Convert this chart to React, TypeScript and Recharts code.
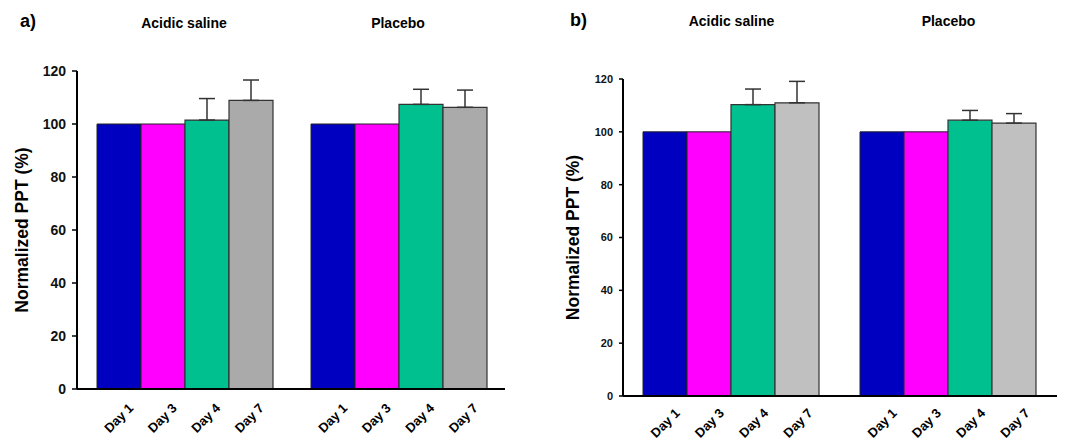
import { BarChart, Bar, XAxis, YAxis, ErrorBar } from "recharts";

const groups = ["Acidic saline", "Placebo"];
const days = ["Day 1", "Day 3", "Day 4", "Day 7"];
const yTicks = [0, 20, 40, 60, 80, 100, 120];

// panel a
const aDay1 = [100, 100];
const aDay3 = [100, 100];
const aDay4 = [101.5, 107.4];
const aDay7 = [108.9, 106.3];
const aErr4 = [8.1, 5.7];
const aErr7 = [7.7, 6.5];

// panel b
const bDay1 = [100, 100];
const bDay3 = [100, 100];
const bDay4 = [110.3, 104.4];
const bDay7 = [111.0, 103.3];
const bErr4 = [5.9, 3.7];
const bErr7 = [8.1, 3.6];

const FONT = "Arial, 'Liberation Sans', sans-serif";
const BLUE = "#0000C0";
const MAGENTA = "#FF00FF";
const GREEN = "#00C090";

function buildRows(d1: number[], d3: number[], d4: number[], d7: number[], e4: number[], e7: number[]) {
    return groups.map((g, i) => ({
        group: g,
        d1: d1[i],
        d3: d3[i],
        d4: d4[i],
        d7: d7[i],
        e4: [0, e4[i]],
        e7: [0, e7[i]],
    }));
}

const dataA = buildRows(aDay1, aDay3, aDay4, aDay7, aErr4, aErr7);
const dataB = buildRows(bDay1, bDay3, bDay4, bDay7, bErr4, bErr7);

// day labels under each bar + group title above the plot
function makeTick(barW: number, labelDy: number, titleY: number) {
    return (props: any) => {
        const { x, y, payload } = props;
        return (
            <g>
                {days.map((d, i) => {
                    const cx = x + (i - 1.5) * barW;
                    const cy = y + labelDy;
                    return (
                        <text
                            key={d}
                            x={cx}
                            y={cy}
                            transform={`rotate(-45 ${cx} ${cy})`}
                            textAnchor="middle"
                            dominantBaseline="central"
                            fontFamily={FONT}
                            fontWeight="bold"
                            fontSize={13}
                            fill="#000"
                        >
                            {d}
                        </text>
                    );
                })}
                <text x={x} y={titleY} textAnchor="middle" fontFamily={FONT} fontWeight="bold" fontSize={14} fill="#000">
                    {payload.value}
                </text>
            </g>
        );
    };
}

function makeYLabel(cx: number) {
    return (props: any) => {
        const { viewBox } = props;
        const cy = viewBox.y + viewBox.height / 2;
        return (
            <text
                x={cx}
                y={cy}
                transform={`rotate(-90 ${cx} ${cy})`}
                textAnchor="middle"
                dominantBaseline="central"
                fontFamily={FONT}
                fontWeight="bold"
                fontSize={17.5}
                fill="#000"
            >
                Normalized PPT (%)
            </text>
        );
    };
}

function Panel(props: {
    data: any[];
    width: number;
    top: number;
    axisW: number;
    right: number;
    xAxisH: number;
    gray: string;
    tickFont: number;
    tickSize: number;
    labelX: number;
    titleY: number;
    labelDy: number;
}) {
    const { data, width, top, axisW, right, xAxisH, gray, tickFont, tickSize, labelX, titleY, labelDy } = props;
    const plotW = width - axisW - right;
    const barW = (plotW / groups.length - 40) / 4;
    return (
        <BarChart
            width={width}
            height={441}
            data={data}
            margin={{ top, right, bottom: 0, left: 0 }}
            barCategoryGap={20}
            barGap={0}
        >
            <XAxis
                dataKey="group"
                height={xAxisH}
                axisLine={{ stroke: "#000", strokeWidth: 2 }}
                tickLine={false}
                tickSize={0}
                tickMargin={0}
                interval={0}
                tick={makeTick(barW, labelDy, titleY)}
            />
            <YAxis
                width={axisW}
                domain={[0, 120]}
                ticks={yTicks}
                axisLine={{ stroke: "#000", strokeWidth: 2 }}
                tickLine={{ stroke: "#000", strokeWidth: 1.5 }}
                tickSize={tickSize}
                tickMargin={6}
                tick={{ fontFamily: FONT, fontWeight: "bold", fontSize: tickFont, fill: "#111" }}
                label={{ content: makeYLabel(labelX) } as any}
                allowDataOverflow
            />
            <Bar dataKey="d1" fill={BLUE} stroke="#222" strokeWidth={1} isAnimationActive={false} />
            <Bar dataKey="d3" fill={MAGENTA} stroke="#222" strokeWidth={1} isAnimationActive={false} />
            <Bar dataKey="d4" fill={GREEN} stroke="#333" strokeWidth={1.2} isAnimationActive={false}>
                <ErrorBar dataKey="e4" width={8} stroke="#333" strokeWidth={1.5} direction="y" />
            </Bar>
            <Bar dataKey="d7" fill={gray} stroke="#333" strokeWidth={1.2} isAnimationActive={false}>
                <ErrorBar dataKey="e7" width={8} stroke="#333" strokeWidth={1.5} direction="y" />
            </Bar>
        </BarChart>
    );
}

export default function App() {
    return (
        <div style={{ position: "absolute", left: 0, top: 0, width: 1072, height: 441, background: "#fff", fontFamily: FONT }}>
            <div style={{ position: "absolute", left: 0, top: 0 }}>
                <Panel data={dataA} width={540} top={71} axisW={77} right={35} xAxisH={52} gray="#AAAAAA" tickFont={14} tickSize={5} labelX={22} titleY={28} labelDy={29} />
            </div>
            <div style={{ position: "absolute", left: 540, top: 0 }}>
                <Panel data={dataB} width={532} top={79} axisW={83} right={15} xAxisH={45} gray="#C0C0C0" tickFont={11} tickSize={4} labelX={33} titleY={26} labelDy={27} />
            </div>
            <div style={{ position: "absolute", left: 20, top: 11, fontSize: 18, fontWeight: "bold" }}>a)</div>
            <div style={{ position: "absolute", left: 570, top: 10, fontSize: 18, fontWeight: "bold" }}>b)</div>
        </div>
    );
}
